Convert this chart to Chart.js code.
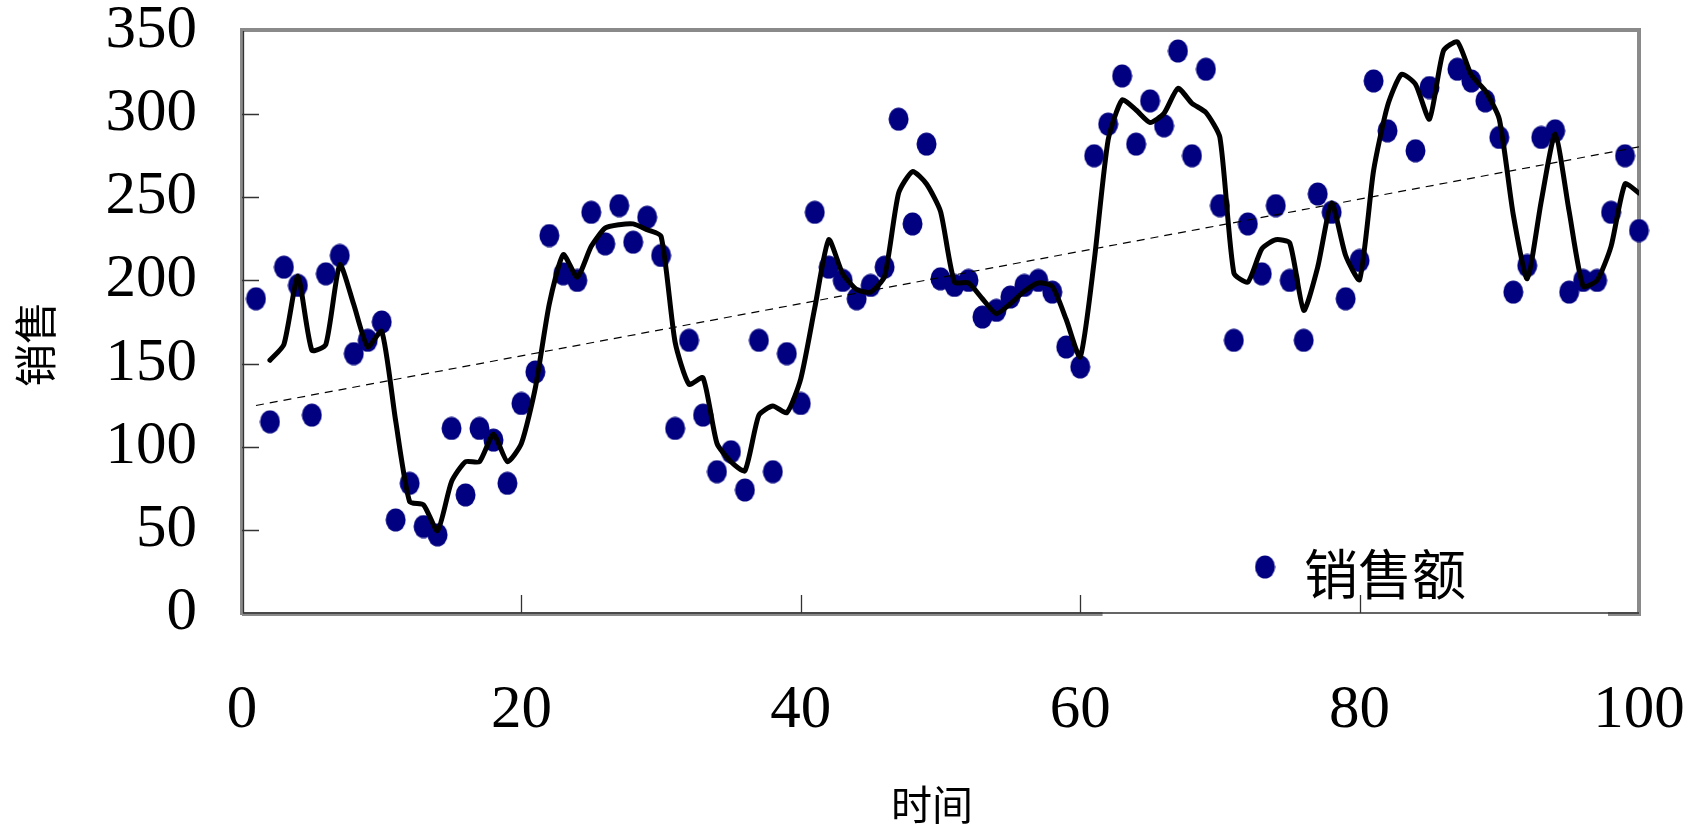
<!DOCTYPE html>
<html>
<head>
<meta charset="utf-8">
<script src="https://cdn.jsdelivr.net/npm/chart.js@4.4.0/dist/chart.umd.min.js"></script>
<style>
  html, body { margin: 0; padding: 0; background: #fff; }
  #wrap { width: 1688px; height: 827px; }
</style>
</head>
<body>
<div id="wrap"><canvas id="salesChart" width="1688" height="827"></canvas></div>
<script>
// 销售额, 时间 = 1..100 (83 and 86 lie above the 350 axis top, so they are cut off)
const sales = [
  189, 115, 208, 197, 119, 204, 215, 156, 164, 175,
   56,  78,  52,  47, 111,  71, 111, 104,  78, 126,
  145, 227, 204, 200, 241, 222, 245, 223, 238, 215,
  111, 164, 119,  85,  97,  74, 164,  85, 156, 126,
  241, 208, 200, 189, 197, 208, 297, 234, 282, 201,
  197, 200, 178, 182, 190, 197, 200, 193, 160, 148,
  275, 294, 323, 282, 308, 293, 338, 275, 327, 245,
  164, 234, 204, 245, 200, 164, 252, 241, 189, 212,
  320, 290, 358, 278, 316, 360, 327, 320, 308, 286,
  193, 209, 286, 290, 193, 200, 200, 241, 275, 230
];
// linear trend line, read at its two ends
const trendX = [1, 100];
const trendY = [124.8, 280.3];
const xTicks = [0, 20, 40, 60, 80, 100];
const yTicks = [0, 50, 100, 150, 200, 250, 300, 350];
const maPeriod = 2;

const navy = '#000080';

// 2-period moving average of the sales values (the black line)
function movingAverage(vals, n) {
  const out = [];
  for (let i = n - 1; i < vals.length; i++) {
    let s = 0;
    for (let k = 0; k < n; k++) s += vals[i - k];
    out.push({ x: i + 1, y: s / n });
  }
  return out;
}

// slightly tall ellipse marker like the original
function makeDot(w, h) {
  const c = document.createElement('canvas');
  c.width = w; c.height = h;
  const g = c.getContext('2d');
  g.fillStyle = navy;
  g.beginPath();
  g.ellipse(w / 2, h / 2, w / 2 - 0.5, h / 2 - 0.5, 0, 0, Math.PI * 2);
  g.fill();
  return c;
}
const dot = makeDot(21, 24);

const framePlugin = {
  id: 'frame',
  beforeDatasetsDraw(chart) {
    const { ctx, chartArea: a, scales: { x, y } } = chart;
    ctx.save();
    ctx.strokeStyle = '#8a8a8a';
    ctx.lineWidth = 4;
    ctx.beginPath();
    ctx.moveTo(a.left, a.bottom + 2);
    ctx.lineTo(a.left, a.top - 1);
    ctx.lineTo(a.right, a.top - 1);
    ctx.lineTo(a.right, a.bottom + 2);
    ctx.stroke();
    ctx.beginPath();
    ctx.moveTo(a.left, a.bottom + 1);
    ctx.lineTo(a.left + (a.right - a.left) * 0.616, a.bottom + 1);
    ctx.moveTo(a.right - 31, a.bottom + 1);
    ctx.lineTo(a.right + 2, a.bottom + 1);
    ctx.stroke();

    ctx.strokeStyle = '#333';
    ctx.lineWidth = 1.3;
    ctx.beginPath();
    ctx.moveTo(a.left + 1.5, a.top);
    ctx.lineTo(a.left + 1.5, a.bottom);
    ctx.lineTo(a.right, a.bottom);
    yTicks.forEach(v => {
      if (v === 0 || v === 350) return;
      const py = Math.round(y.getPixelForValue(v)) + 0.5;
      ctx.moveTo(a.left, py);
      ctx.lineTo(a.left + 17, py);
    });
    xTicks.forEach(v => {
      if (v === 0 || v === 100) return;
      const px = Math.round(x.getPixelForValue(v)) + 0.5;
      ctx.moveTo(px, a.bottom);
      ctx.lineTo(px, a.bottom - 18);
    });
    ctx.stroke();
    ctx.restore();
  },
  afterDraw(chart) {
    const { ctx } = chart;
    ctx.save();
    ctx.fillStyle = '#000';
    ctx.textAlign = 'center';
    ctx.textBaseline = 'middle';
    ctx.font = '41px "Noto Sans CJK SC"';
    ctx.fillText('时间', 932, 804);
    ctx.save();
    ctx.translate(36, 344);
    ctx.rotate(-Math.PI / 2);
    ctx.font = '43px "Noto Sans CJK SC"';
    ctx.fillText('销售', 0, 0);
    ctx.restore();

    // legend inside the plot, bottom right
    ctx.drawImage(dot, 1265 - 10.5, 567 - 12);
    ctx.textAlign = 'left';
    ctx.font = '54px "Noto Sans CJK SC"';
    ctx.fillText('销售额', 1304, 574);
    ctx.restore();
  }
};

const tickFont = { family: '"Liberation Serif", "Times New Roman", serif', size: 61 };

new Chart(document.getElementById('salesChart'), {
  type: 'scatter',
  data: {
    datasets: [
      {
        label: '销售额',
        data: sales.map((v, i) => ({ x: i + 1, y: v })),
        pointStyle: dot,
        pointRadius: 11,
        backgroundColor: navy,
        borderColor: navy,
        showLine: false,
        clip: { left: 20, right: 20, top: 0, bottom: 20 },
        order: 3
      },
      {
        type: 'line',
        label: '线性 (销售额)',
        data: trendX.map((x, i) => ({ x: x, y: trendY[i] })),
        borderColor: '#000',
        borderWidth: 1.2,
        borderDash: [8, 6],
        pointRadius: 0,
        order: 2
      },
      {
        type: 'line',
        label: '2 per. Mov. Avg. (销售额)',
        data: movingAverage(sales, maPeriod),
        borderColor: '#000',
        borderWidth: 5,
        borderJoinStyle: 'round',
        borderCapStyle: 'round',
        tension: 0.2,
        pointRadius: 0,
        order: 1
      }
    ]
  },
  options: {
    responsive: false,
    animation: false,
    layout: { padding: { top: 31, right: 49, bottom: 0, left: 0 } },
    plugins: {
      legend: { display: false },
      tooltip: { enabled: false }
    },
    scales: {
      x: {
        type: 'linear',
        min: 0,
        max: 100,
        grid: { display: false, drawTicks: false },
        border: { display: false },
        afterBuildTicks: s => { s.ticks = xTicks.map(v => ({ value: v })); },
        ticks: { padding: 61, font: tickFont, color: '#000', maxRotation: 0 },
        afterFit: s => { s.height = 214; s.paddingLeft = 0; s.paddingRight = 0; }
      },
      y: {
        min: 0,
        max: 350,
        grid: { display: false, drawTicks: false },
        border: { display: false },
        afterBuildTicks: s => { s.ticks = yTicks.map(v => ({ value: v })); },
        ticks: { padding: 45, font: tickFont, color: '#000' },
        afterFit: s => { s.width = 242; s.paddingTop = 0; s.paddingBottom = 0; }
      }
    }
  },
  plugins: [framePlugin]
});
</script>
</body>
</html>
